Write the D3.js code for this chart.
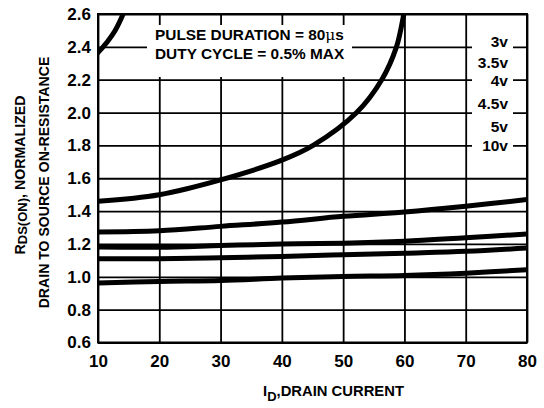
<!DOCTYPE html>
<html><head><meta charset="utf-8">
<script src="https://cdn.jsdelivr.net/npm/d3@7"></script>
<style>
body{margin:0;background:#fff;}
text{font-family:"Liberation Sans",Arial,sans-serif;font-weight:bold;fill:#000;}
</style></head>
<body><svg id="c" width="544" height="408"></svg>
<script>
// ---- data ----
const xTicks = [10,20,30,40,50,60,70,80];
const yTicks = [0.6,0.8,1.0,1.2,1.4,1.6,1.8,2.0,2.2,2.4,2.6];
const yTickLabels = ["0.6","0.8","1.0","1.2","1.4","1.6","1.8","2.0","2.2","2.4","2.6"];
const seriesNames = ["3v","3.5v","4v","4.5v","5v","10v"];
const x3v   = [9.5,10,11.5,12.8,14.1,14.7];
const y3v   = [2.345,2.365,2.43,2.50,2.6,2.66];
const x35v  = [10,20,30,40,45.1,52.2,56.3,58.7,59.9,60.5];
const y35v  = [1.46,1.50,1.59,1.71,1.80,2.0,2.2,2.4,2.6,2.72];
const xCommon = [10,20,30,40,50,60,70,80];
const y4v   = [1.273,1.28,1.307,1.333,1.368,1.395,1.43,1.47];
const y45v  = [1.181,1.18,1.19,1.20,1.205,1.217,1.238,1.26];
const y5v   = [1.11,1.11,1.116,1.124,1.134,1.144,1.155,1.175];
const y10v  = [0.962,0.972,0.978,0.992,1.002,1.008,1.022,1.043];
const noteLines = ["PULSE DURATION = 80","DUTY CYCLE = 0.5% MAX"];

// ---- layout ----
const svg = d3.select("#c");
const L = 98, R = 527, T = 14, B = 342.5;
const x = d3.scaleLinear().domain([10,80]).range([L,R]);
const y = d3.scaleLinear().domain([0.6,2.6]).range([B,T]);

// grid via axes
const gx = svg.append("g").attr("transform",`translate(0,${B})`)
  .call(d3.axisBottom(x).tickValues(xTicks).tickSize(-(B-T)).tickFormat(d3.format("d")).tickPadding(10));
const gy = svg.append("g").attr("transform",`translate(${L},0)`)
  .call(d3.axisLeft(y).tickValues(yTicks).tickSize(-(R-L)).tickFormat((d,i)=>yTickLabels[i]).tickPadding(7));
[gx,gy].forEach(g=>{
  g.select(".domain").remove();
  g.selectAll(".tick line").attr("stroke","#000").attr("stroke-width",1.8);
  g.selectAll(".tick text").style("font-size","17px").attr("fill","#000");
});
gx.selectAll(".tick text").attr("dy","0.85em");
// frame
svg.append("rect").attr("x",L).attr("y",T).attr("width",R-L).attr("height",B-T)
  .attr("fill","none").attr("stroke","#000").attr("stroke-width",2);

// white boxes
svg.append("rect").attr("x",147).attr("y",25).attr("width",205).attr("height",52).attr("fill","#fff");
svg.append("rect").attr("x",472).attr("y",33).attr("width",41).attr("height",122).attr("fill","#fff");

// curves
svg.append("clipPath").attr("id","clip").append("rect")
  .attr("x",L).attr("y",T).attr("width",R-L).attr("height",B-T);
const line = d3.line().x(d=>x(d[0])).y(d=>y(d[1])).curve(d3.curveCatmullRom.alpha(0.5));
const series = [
  d3.zip(x3v,y3v), d3.zip(x35v,y35v), d3.zip(xCommon,y4v),
  d3.zip(xCommon,y45v), d3.zip(xCommon,y5v), d3.zip(xCommon,y10v)
];
svg.append("g").attr("clip-path","url(#clip)").selectAll("path").data(series).join("path")
  .attr("d",line).attr("fill","none").attr("stroke","#000").attr("stroke-width",5)
  .attr("stroke-linecap","round");

// note
const note = svg.append("g");
const t1 = note.append("text").attr("x",155).attr("y",40).style("font-size","15.4px").text(noteLines[0]);
t1.append("tspan").style("font-family","'DejaVu Serif',serif").style("font-weight","normal").text("μ");
t1.append("tspan").text("s");
note.append("text").attr("x",155).attr("y",59).style("font-size","15.4px").text(noteLines[1]);

// series labels
const labY = [47,68,86,109,132,151];
svg.append("g").selectAll("text").data(seriesNames).join("text")
  .attr("x",508).attr("y",(d,i)=>labY[i]).attr("text-anchor","end").style("font-size","15.5px").text(d=>d);

// axis titles
const xt = svg.append("text").attr("x",263).attr("y",396).style("font-size","14.8px");
xt.append("tspan").text("I");
xt.append("tspan").attr("dy",5).style("font-size","13px").text("D");
xt.append("tspan").attr("dy",-5).text(",DRAIN CURRENT");

const yt1 = svg.append("text").attr("transform","translate(25,175) rotate(-90)").attr("text-anchor","middle").style("font-size","14.2px");
yt1.append("tspan").text("R");
yt1.append("tspan").attr("dy",2).style("font-size","13px").text("DS(ON)");
yt1.append("tspan").attr("dy",-2).text(", NORMALIZED");
svg.append("text").attr("transform","translate(49,182.5) rotate(-90)").attr("text-anchor","middle").style("font-size","14.1px")
  .text("DRAIN TO SOURCE ON-RESISTANCE");
</script></body></html>
